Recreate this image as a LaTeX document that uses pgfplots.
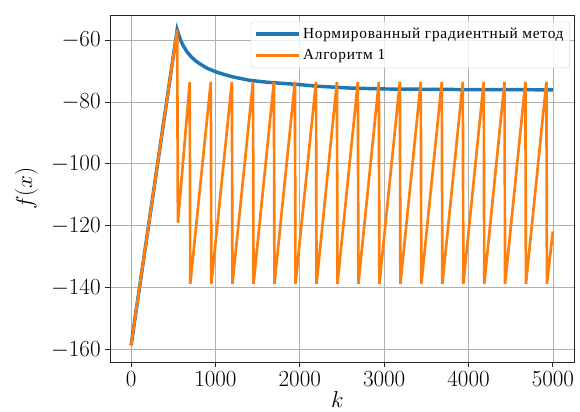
\documentclass[border=0pt]{standalone}
\usepackage{fontspec}
\usepackage{pgfplots}
\pgfplotsset{compat=1.18}
\newfontfamily\cyr[LetterSpace=5]{Liberation Serif}
\definecolor{mplblue}{HTML}{1F77B4}
\definecolor{mplorange}{HTML}{FF7F0E}
\definecolor{gridgray}{HTML}{B0B0B0}
\begin{document}
\begin{tikzpicture}
\begin{axis}[
  name=ax,
  scale only axis,
  width=348pt, height=260.25pt,
  xmin=-250, xmax=5250, ymin=-164, ymax=-51.9,
  xtick={0,1000,2000,3000,4000,5000},
  ytick={-160,-140,-120,-100,-80,-60},
  scaled x ticks=false,
  tick label style={font=\fontsize{17}{18}\selectfont},
  xticklabel style={/pgf/number format/1000 sep={}},
  tick align=outside, tick pos=left,
  major tick length=3.5pt,
  major tick style={black!85, line width=0.7pt},
  grid=major,
  grid style={gridgray, line width=0.6pt},
  axis line style={black!85, line width=0.7pt},
  xlabel={$k$}, ylabel={$f(x)$},
  label style={font=\fontsize{17}{18}\selectfont},
  xlabel style={at={(axis description cs:0.49,-0.108)}, anchor=center},
  ylabel style={at={(axis description cs:-0.18,0.5)}, anchor=center},
  legend style={at={(axis description cs:0.991,0.981)}, anchor=north east, font=\cyr\fontsize{11.5}{13}\selectfont,
    draw=gray!30, rounded corners=2pt, fill=white, fill opacity=0.8, text opacity=1,
    row sep=3pt, inner sep=2.5pt},
  legend cell align=left,
  legend image code/.code={\draw[#1] (0pt,0pt) -- (32pt,0pt);},
]
\addplot[mplblue, line width=2.6pt] coordinates {
(0,-158.6) (546,-56.7) (565,-58.3) (590,-60.2) (613,-61.6) (660,-63.7) (712,-65.4) (760,-66.6) (811,-67.6) (900,-69.1) (1009,-70.3) (1100,-71.1) (1207,-71.9) (1405,-73.0) (1603,-73.6) (1800,-74.0) (1999,-74.4) (2200,-74.9) (2394,-75.2) (2592,-75.5) (3000,-75.8) (3500,-75.9) (4000,-76.0) (4500,-76.0) (5000,-76.1)
};
\addlegendentry{Нормированный градиентный метод}
\addplot[mplorange, line width=2pt] coordinates {
(0,-158.6) (546,-56.7) (555,-119.0)
(695,-73.6) (701,-138.8)
(945,-73.5) (951,-138.8)
(1195,-73.5) (1201,-138.8)
(1445,-73.5) (1451,-138.8)
(1693,-73.5) (1699,-138.8)
(1942,-73.5) (1948,-138.8)
(2192,-73.5) (2198,-138.8)
(2440,-73.5) (2446,-138.8)
(2688,-73.5) (2694,-138.8)
(2937,-73.5) (2943,-138.8)
(3186,-73.5) (3192,-138.8)
(3434,-73.5) (3440,-138.8)
(3683,-73.5) (3689,-138.8)
(3932,-73.5) (3938,-138.8)
(4180,-73.5) (4186,-138.8)
(4427,-73.5) (4433,-138.8)
(4674,-73.5) (4680,-138.8)
(4923,-73.5) (4929,-138.8)
(5000,-121.8)
};
\addlegendentry{Алгоритм 1}
\end{axis}
\pgfresetboundingbox
\path ([shift={(-82.5pt,-37.5pt)}]ax.south west) rectangle ([shift={(4.5pt,11.25pt)}]ax.north east);
\end{tikzpicture}
\end{document}
